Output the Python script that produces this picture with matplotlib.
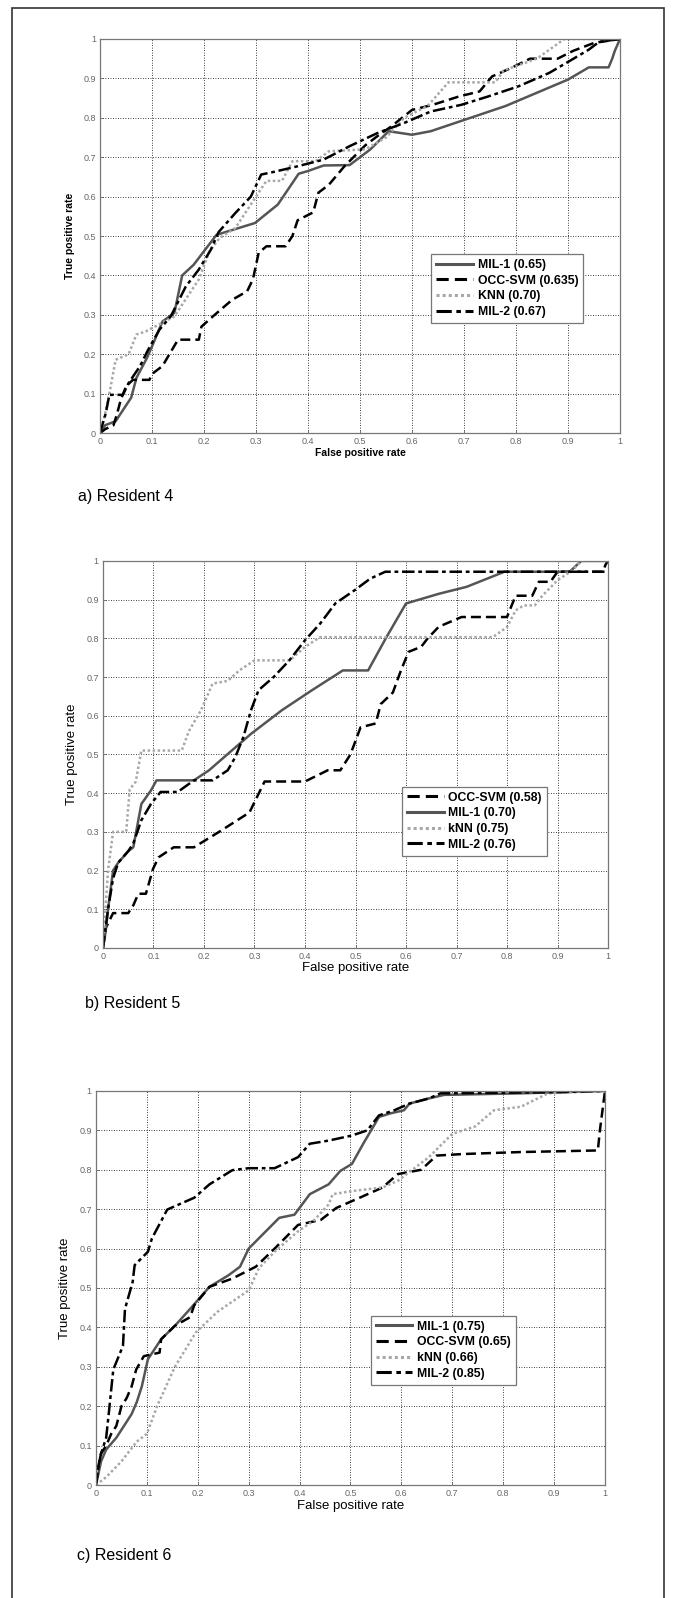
import matplotlib
matplotlib.use("Agg")
import matplotlib.pyplot as plt
from matplotlib.patches import Rectangle

plt.rcParams['font.family'] = ['Liberation Sans', 'DejaVu Sans']

# ---- a) Resident 4 ----
a_mil1_x = [0, 0.01, 0.03, 0.05, 0.06, 0.07, 0.09, 0.1, 0.12, 0.143, 0.158, 0.18, 0.224, 0.298, 0.342, 0.382,
            0.4, 0.43, 0.48, 0.52, 0.555, 0.6, 0.636, 0.78, 0.9, 0.94, 0.978, 0.985, 0.99, 1.0]
a_mil1_y = [0, 0.02, 0.03, 0.07, 0.09, 0.14, 0.19, 0.22, 0.283, 0.305, 0.40, 0.427, 0.503, 0.533, 0.58, 0.658,
            0.665, 0.679, 0.68, 0.72, 0.766, 0.757, 0.766, 0.83, 0.897, 0.928, 0.928, 0.95, 0.97, 1.0]
a_occ_x = [0, 0.01, 0.026, 0.033, 0.04, 0.05, 0.063, 0.095, 0.1, 0.12, 0.15, 0.19, 0.195, 0.217, 0.254, 0.283,
           0.294, 0.305, 0.32, 0.357, 0.37, 0.38, 0.41, 0.42, 0.44, 0.47, 0.51, 0.533, 0.56, 0.6, 0.64, 0.69,
           0.73, 0.754, 0.79, 0.827, 0.88, 0.91, 0.95, 1.0]
a_occ_y = [0, 0.01, 0.02, 0.05, 0.085, 0.118, 0.135, 0.135, 0.15, 0.17, 0.237, 0.237, 0.27, 0.296, 0.338, 0.36,
           0.39, 0.457, 0.474, 0.474, 0.5, 0.54, 0.56, 0.61, 0.63, 0.677, 0.73, 0.753, 0.778, 0.82, 0.833, 0.854,
           0.867, 0.905, 0.926, 0.95, 0.95, 0.97, 0.99, 1.0]
a_knn_x = [0, 0.01, 0.018, 0.03, 0.055, 0.07, 0.088, 0.143, 0.19, 0.21, 0.23, 0.26, 0.29, 0.32, 0.35, 0.37,
           0.415, 0.44, 0.51, 0.55, 0.585, 0.63, 0.67, 0.76, 0.776, 0.84, 0.893, 1.0]
a_knn_y = [0, 0.05, 0.10, 0.186, 0.2, 0.25, 0.258, 0.296, 0.39, 0.46, 0.495, 0.52, 0.58, 0.64, 0.64, 0.69,
           0.69, 0.715, 0.72, 0.75, 0.80, 0.83, 0.89, 0.89, 0.92, 0.95, 1.0, 1.0]
a_mil2_x = [0, 0.011, 0.018, 0.044, 0.055, 0.077, 0.092, 0.114, 0.136, 0.165, 0.19, 0.213, 0.228, 0.26, 0.29,
            0.31, 0.335, 0.38, 0.43, 0.48, 0.533, 0.585, 0.636, 0.695, 0.746, 0.805, 0.864, 0.908, 0.94, 0.96, 1.0]
a_mil2_y = [0, 0.05, 0.097, 0.097, 0.127, 0.17, 0.21, 0.262, 0.296, 0.372, 0.415, 0.465, 0.51, 0.558, 0.6,
            0.656, 0.663, 0.677, 0.694, 0.728, 0.761, 0.787, 0.816, 0.833, 0.854, 0.88, 0.914, 0.948, 0.973, 0.993, 1.0]

# ---- b) Resident 5 ----
b_occ_x = [0, 0.005, 0.02, 0.05, 0.06, 0.07, 0.085, 0.099, 0.11, 0.14, 0.18, 0.23, 0.29, 0.32, 0.40, 0.445,
           0.47, 0.49, 0.51, 0.54, 0.55, 0.574, 0.59, 0.605, 0.63, 0.643, 0.665, 0.71, 0.80, 0.817, 0.85, 0.863,
           0.886, 0.9, 0.99, 0.995, 1.0]
b_occ_y = [0, 0.05, 0.09, 0.09, 0.11, 0.14, 0.14, 0.204, 0.234, 0.26, 0.26, 0.30, 0.35, 0.43, 0.43, 0.459,
           0.459, 0.50, 0.57, 0.58, 0.63, 0.66, 0.717, 0.765, 0.778, 0.80, 0.83, 0.855, 0.855, 0.91, 0.91, 0.946,
           0.946, 0.972, 0.972, 0.99, 1.0]
b_mil1_x = [0, 0.005, 0.01, 0.02, 0.03, 0.05, 0.06, 0.076, 0.095, 0.106, 0.18, 0.21, 0.255, 0.293, 0.354,
            0.414, 0.475, 0.525, 0.56, 0.6, 0.665, 0.72, 0.795, 0.924, 0.947, 1.0]
b_mil1_y = [0, 0.04, 0.1, 0.2, 0.22, 0.25, 0.26, 0.372, 0.407, 0.433, 0.433, 0.459, 0.51, 0.553, 0.614,
            0.666, 0.717, 0.717, 0.80, 0.89, 0.915, 0.933, 0.972, 0.972, 1.0, 1.0]
b_knn_x = [0, 0.005, 0.01, 0.015, 0.02, 0.046, 0.053, 0.065, 0.076, 0.156, 0.17, 0.194, 0.217, 0.247, 0.27,
           0.30, 0.37, 0.40, 0.43, 0.772, 0.80, 0.817, 0.833, 0.855, 0.87, 0.9, 0.93, 0.947, 1.0]
b_knn_y = [0, 0.1, 0.2, 0.25, 0.30, 0.30, 0.41, 0.43, 0.51, 0.51, 0.56, 0.614, 0.683, 0.69, 0.717,
           0.743, 0.743, 0.778, 0.803, 0.803, 0.829, 0.872, 0.885, 0.885, 0.91, 0.95, 0.976, 1.0, 1.0]
b_mil2_x = [0, 0.005, 0.01, 0.02, 0.03, 0.05, 0.06, 0.076, 0.095, 0.114, 0.148, 0.18, 0.217, 0.247, 0.262,
            0.278, 0.293, 0.308, 0.338, 0.369, 0.4, 0.43, 0.46, 0.498, 0.529, 0.559, 1.0]
b_mil2_y = [0, 0.05, 0.1, 0.18, 0.22, 0.25, 0.27, 0.33, 0.372, 0.403, 0.403, 0.433, 0.433, 0.459, 0.493,
            0.545, 0.614, 0.666, 0.70, 0.743, 0.795, 0.838, 0.89, 0.924, 0.954, 0.972, 0.972]

# ---- c) Resident 6 ----
c_mil1_x = [0, 0.01, 0.02, 0.04, 0.06, 0.07, 0.08, 0.09, 0.102, 0.128, 0.155, 0.185, 0.223, 0.26, 0.283, 0.3,
            0.32, 0.36, 0.39, 0.42, 0.457, 0.48, 0.503, 0.525, 0.556, 0.578, 0.605, 0.616, 0.654, 0.684, 0.835, 1.0]
c_mil1_y = [0, 0.06, 0.09, 0.12, 0.16, 0.18, 0.21, 0.25, 0.319, 0.37, 0.404, 0.447, 0.503, 0.532, 0.554, 0.60,
            0.626, 0.678, 0.686, 0.738, 0.763, 0.797, 0.815, 0.866, 0.934, 0.943, 0.951, 0.968, 0.981, 0.99, 0.994, 1.0]
c_occ_x = [0, 0.005, 0.01, 0.02, 0.03, 0.04, 0.05, 0.06, 0.07, 0.079, 0.094, 0.125, 0.128, 0.155, 0.185, 0.193,
           0.223, 0.268, 0.314, 0.351, 0.397, 0.442, 0.472, 0.518, 0.563, 0.593, 0.639, 0.669, 0.722, 0.835,
           0.986, 0.99, 1.0]
c_occ_y = [0, 0.05, 0.08, 0.10, 0.13, 0.15, 0.2, 0.22, 0.25, 0.293, 0.327, 0.336, 0.37, 0.404, 0.426, 0.456,
           0.503, 0.524, 0.554, 0.60, 0.66, 0.673, 0.703, 0.729, 0.755, 0.789, 0.80, 0.836, 0.84, 0.845,
           0.849, 0.9, 1.0]
c_knn_x = [0, 0.02, 0.05, 0.08, 0.1, 0.12, 0.155, 0.196, 0.238, 0.3, 0.32, 0.351, 0.397, 0.427, 0.457, 0.465,
           0.503, 0.563, 0.593, 0.654, 0.7, 0.745, 0.782, 0.835, 0.888, 1.0]
c_knn_y = [0, 0.02, 0.06, 0.11, 0.13, 0.2, 0.30, 0.387, 0.439, 0.494, 0.55, 0.592, 0.644, 0.67, 0.712, 0.738,
           0.746, 0.755, 0.772, 0.832, 0.891, 0.91, 0.951, 0.96, 0.994, 1.0]
c_mil2_x = [0, 0.005, 0.01, 0.02, 0.025, 0.034, 0.053, 0.057, 0.072, 0.076, 0.102, 0.11, 0.14, 0.193, 0.223,
            0.268, 0.3, 0.351, 0.397, 0.42, 0.457, 0.503, 0.533, 0.556, 0.586, 0.616, 0.654, 0.677, 0.911, 1.0]
c_mil2_y = [0, 0.05, 0.08, 0.12, 0.18, 0.293, 0.353, 0.447, 0.515, 0.558, 0.592, 0.626, 0.699, 0.729, 0.763,
            0.799, 0.804, 0.804, 0.832, 0.866, 0.874, 0.887, 0.9, 0.938, 0.951, 0.968, 0.981, 0.994, 0.997, 1.0]

ticks = [0, 0.1, 0.2, 0.3, 0.4, 0.5, 0.6, 0.7, 0.8, 0.9, 1]
tick_labels = ["0", "0.1", "0.2", "0.3", "0.4", "0.5", "0.6", "0.7", "0.8", "0.9", "1"]

styles = {
    "MIL-1": dict(color="#555555", linestyle="-"),
    "OCC-SVM": dict(color="black", linestyle=(0, (4, 2))),
    "KNN": dict(color="#a8a8a8", linestyle=(0, (1, 1))),
    "MIL-2": dict(color="black", linestyle=(0, (5, 1.5, 1.5, 1.5))),
}

panels = [
    dict(rect=[0.1484, 0.7290, 0.7715, 0.2466], bold=True, label_size=7.5,
         series=[("MIL-1", "MIL-1 (0.65)", a_mil1_x, a_mil1_y),
                 ("OCC-SVM", "OCC-SVM (0.635)", a_occ_x, a_occ_y),
                 ("KNN", "KNN (0.70)", a_knn_x, a_knn_y),
                 ("MIL-2", "MIL-2 (0.67)", a_mil2_x, a_mil2_y)],
         legend_anchor=(0.625, 0.47), caption="a) Resident 4", cap_pos=(0.1157, 0.689)),
    dict(rect=[0.1528, 0.4068, 0.7493, 0.2422], bold=False, label_size=9.5,
         series=[("OCC-SVM", "OCC-SVM (0.58)", b_occ_x, b_occ_y),
                 ("MIL-1", "MIL-1 (0.70)", b_mil1_x, b_mil1_y),
                 ("KNN", "kNN (0.75)", b_knn_x, b_knn_y),
                 ("MIL-2", "MIL-2 (0.76)", b_mil2_x, b_mil2_y)],
         legend_anchor=(0.58, 0.432), caption="b) Resident 5", cap_pos=(0.126, 0.3723)),
    dict(rect=[0.1424, 0.0707, 0.7552, 0.2466], bold=False, label_size=9.5,
         series=[("MIL-1", "MIL-1 (0.75)", c_mil1_x, c_mil1_y),
                 ("OCC-SVM", "OCC-SVM (0.65)", c_occ_x, c_occ_y),
                 ("KNN", "kNN (0.66)", c_knn_x, c_knn_y),
                 ("MIL-2", "MIL-2 (0.85)", c_mil2_x, c_mil2_y)],
         legend_anchor=(0.528, 0.445), caption="c) Resident 6", cap_pos=(0.114, 0.0269)),
]

fig = plt.figure(figsize=(6.74, 15.98), dpi=100)

# outer frame
fig.patches.append(Rectangle((12 / 674, -0.01), 652 / 674, 1 - 8 / 1598 + 0.01, transform=fig.transFigure,
                             fill=False, edgecolor="#333333", linewidth=1.2))

for p in panels:
    ax = fig.add_axes(p["rect"])
    for key, label, xs, ys in p["series"]:
        ax.plot(xs, ys, label=label, linewidth=1.8, **styles[key])
    ax.set_xlim(0, 1)
    ax.set_ylim(0, 1)
    ax.set_xticks(ticks)
    ax.set_yticks(ticks)
    ax.set_xticklabels(tick_labels)
    ax.set_yticklabels(tick_labels)
    ax.tick_params(labelsize=6.5, colors="#666666", length=2, width=0.6, direction="in", pad=3)
    ax.grid(True, color="black", linestyle=(0, (1, 2)), linewidth=0.6)
    for s in ax.spines.values():
        s.set_color("#777777")
        s.set_linewidth(0.9)
    weight = "bold" if p["bold"] else "normal"
    ax.set_xlabel("False positive rate", fontsize=p["label_size"], fontweight=weight, labelpad=1)
    ax.set_ylabel("True positive rate", fontsize=p["label_size"], fontweight=weight, labelpad=6)
    leg = ax.legend(loc="upper left", bbox_to_anchor=p["legend_anchor"], fancybox=False,
                    edgecolor="#777777", framealpha=1, handlelength=3.0, borderpad=0.4,
                    labelspacing=0.3, handletextpad=0.4, prop=dict(size=8.8, weight="bold"))
    leg.get_frame().set_linewidth(0.9)
    for line in leg.get_lines():
        line.set_linewidth(2.2)
    fig.text(p["cap_pos"][0], p["cap_pos"][1], p["caption"], fontsize=11.5, va="center", ha="left")

fig.savefig("out.png", dpi=100, facecolor="white")
